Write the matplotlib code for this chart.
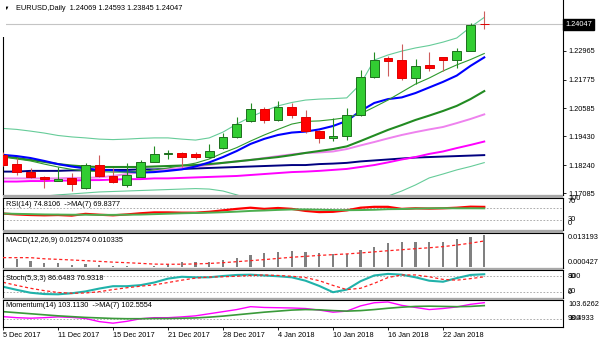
import matplotlib
matplotlib.use("Agg")
import matplotlib.pyplot as plt
from matplotlib.patches import Rectangle
import numpy as np

plt.rcParams['font.family'] = ['Liberation Sans', 'DejaVu Sans']
FS = 5.3

# ---------------- data ----------------
dates = ["5 Dec 2017", "6 Dec 2017", "7 Dec 2017", "8 Dec 2017", "11 Dec 2017", "12 Dec 2017",
         "13 Dec 2017", "14 Dec 2017", "15 Dec 2017", "18 Dec 2017", "19 Dec 2017", "20 Dec 2017",
         "21 Dec 2017", "22 Dec 2017", "26 Dec 2017", "27 Dec 2017", "28 Dec 2017", "29 Dec 2017",
         "2 Jan 2018", "3 Jan 2018", "4 Jan 2018", "5 Jan 2018", "8 Jan 2018", "9 Jan 2018",
         "10 Jan 2018", "11 Jan 2018", "12 Jan 2018", "15 Jan 2018", "16 Jan 2018", "17 Jan 2018",
         "18 Jan 2018", "19 Jan 2018", "22 Jan 2018", "23 Jan 2018", "24 Jan 2018", "25 Jan 2018"]
tick_every = 4

opens = [1.1867, 1.1828, 1.1798, 1.1775, 1.1761, 1.1771, 1.1729, 1.1825, 1.1780, 1.1743, 1.1777, 1.1839,
         1.1871, 1.1876, 1.1872, 1.1857, 1.1894, 1.1940, 1.2008, 1.2056, 1.2012, 1.2066, 1.2025, 1.1967,
         1.1935, 1.1944, 1.2031, 1.2189, 1.2265, 1.2258, 1.2183, 1.2237, 1.2270, 1.2258, 1.2297, 1.24069]
highs = [1.1877, 1.1854, 1.1814, 1.1778, 1.1818, 1.1794, 1.1832, 1.1867, 1.1812, 1.1832, 1.1846, 1.1904,
         1.1887, 1.1877, 1.1880, 1.1910, 1.1956, 1.2025, 1.2080, 1.2066, 1.2089, 1.2080, 1.2052, 1.1970,
         1.2018, 1.2059, 1.2218, 1.2292, 1.2276, 1.2323, 1.2262, 1.2293, 1.2272, 1.2307, 1.2410, 1.24593]
lows = [1.1820, 1.1784, 1.1770, 1.1730, 1.1758, 1.1719, 1.1725, 1.1777, 1.1750, 1.1736, 1.1775, 1.1836,
        1.1852, 1.1818, 1.1850, 1.1853, 1.1890, 1.1935, 1.2004, 1.1997, 1.2006, 1.2021, 1.1956, 1.1915,
        1.1924, 1.1928, 1.2026, 1.2183, 1.2193, 1.2176, 1.2159, 1.2213, 1.2213, 1.2224, 1.2296, 1.23845]
closes = [1.1825, 1.1798, 1.1775, 1.1768, 1.1768, 1.1746, 1.1825, 1.1781, 1.1756, 1.1784, 1.1839, 1.1871,
          1.1873, 1.1860, 1.1857, 1.1884, 1.1942, 1.1994, 1.2056, 1.2012, 1.2066, 1.2032, 1.1967, 1.1935,
          1.1946, 1.2031, 1.2189, 1.2259, 1.2255, 1.2183, 1.2233, 1.2224, 1.2257, 1.2296, 1.2403, 1.24047]

blue_ma = [1.1867, 1.1862, 1.1854, 1.1842, 1.1829, 1.1819, 1.1811, 1.1805, 1.1803, 1.1798, 1.1794, 1.1796,
           1.1801, 1.1807, 1.1819, 1.1836, 1.1858, 1.1883, 1.1912, 1.1933, 1.1949, 1.1959, 1.1963, 1.1972,
           1.1986, 1.2007, 1.2048, 1.2081, 1.2097, 1.2104, 1.2122, 1.2145, 1.2168, 1.2194, 1.2234, 1.2269]
fast_ma = [1.1858, 1.1850, 1.1842, 1.1829, 1.1817, 1.1807, 1.1801, 1.1798, 1.1796, 1.1796, 1.1798, 1.1805,
           1.1813, 1.1823, 1.1833, 1.1850, 1.1875, 1.1897, 1.1924, 1.1949, 1.1972, 1.1994, 1.2005, 1.2007,
           1.2013, 1.2021, 1.2036, 1.2064, 1.2093, 1.2126, 1.2159, 1.2184, 1.2213, 1.2238, 1.2260, 1.2285]
mid_ma = [1.1862, 1.1854, 1.1846, 1.1838, 1.1829, 1.1823, 1.1819, 1.1817, 1.1817, 1.1817, 1.1817, 1.1819,
          1.1821, 1.1823, 1.1825, 1.1829, 1.1834, 1.1840, 1.1846, 1.1852, 1.1858, 1.1866, 1.1875, 1.1883,
          1.1891, 1.1902, 1.1924, 1.1947, 1.1970, 1.1990, 1.2011, 1.2029, 1.2048, 1.2069, 1.2097, 1.2130]
band_up = [1.1976, 1.1972, 1.1965, 1.1957, 1.1947, 1.1941, 1.1937, 1.1932, 1.1930, 1.1932, 1.1935, 1.1937,
           1.1937, 1.1932, 1.1928, 1.1937, 1.1961, 1.1994, 1.2023, 1.2048, 1.2069, 1.2083, 1.2093, 1.2097,
           1.2099, 1.2102, 1.2159, 1.2258, 1.2279, 1.2295, 1.2308, 1.2318, 1.2332, 1.2349, 1.2394, 1.2434]
band_dn = [1.1681, 1.1687, 1.1693, 1.1697, 1.1702, 1.1706, 1.1710, 1.1714, 1.1716, 1.1718, 1.1720, 1.1722,
           1.1724, 1.1726, 1.1728, 1.1726, 1.1718, 1.1702, 1.1685, 1.1669, 1.1656, 1.1648, 1.1644, 1.1640,
           1.1640, 1.1644, 1.1656, 1.1677, 1.1697, 1.1718, 1.1743, 1.1772, 1.1788, 1.1805, 1.1819, 1.1835]
violet_ma = [1.1770, 1.1770, 1.1770, 1.1770, 1.1770, 1.1772, 1.1772, 1.1774, 1.1780, 1.1788, 1.1796, 1.1803,
             1.1809, 1.1813, 1.1819, 1.1825, 1.1834, 1.1840, 1.1846, 1.1854, 1.1862, 1.1869, 1.1875, 1.1877,
             1.1881, 1.1891, 1.1906, 1.1920, 1.1935, 1.1949, 1.1961, 1.1972, 1.1982, 1.1998, 1.2015, 1.2034]
magenta_ma = [1.1757, 1.1757, 1.1759, 1.1759, 1.1761, 1.1761, 1.1763, 1.1763, 1.1765, 1.1767, 1.1767, 1.1770,
              1.1770, 1.1772, 1.1774, 1.1776, 1.1778, 1.1780, 1.1784, 1.1788, 1.1792, 1.1796, 1.1798, 1.1801,
              1.1805, 1.1809, 1.1817, 1.1825, 1.1836, 1.1848, 1.1858, 1.1871, 1.1881, 1.1895, 1.1908, 1.1922]
navy_ma = [1.1798, 1.1798, 1.1801, 1.1801, 1.1801, 1.1803, 1.1803, 1.1805, 1.1805, 1.1805, 1.1807, 1.1807,
           1.1809, 1.1809, 1.1811, 1.1813, 1.1815, 1.1817, 1.1819, 1.1821, 1.1823, 1.1825, 1.1825, 1.1829,
           1.1831, 1.1834, 1.1840, 1.1844, 1.1848, 1.1852, 1.1856, 1.1858, 1.1860, 1.1862, 1.1864, 1.1866]
price_ticks = [1.22965, 1.21775, 1.20585, 1.19430, 1.18240, 1.17085]

rsi = [52, 49, 47, 46, 47, 45, 51, 48, 46, 49, 53, 56, 56, 55, 55, 58, 63, 68,
       72, 68, 71, 68, 61, 57, 58, 63, 72, 75, 75, 68, 70, 69, 70, 72, 75.5, 74.81]
rsi_ma = [52, 51, 50, 49, 48.5, 48, 48, 47.5, 47.5, 48, 48.5, 50, 51.5, 53, 54, 55, 56.5, 58.5,
          61, 62.5, 64.5, 66, 66, 65, 64, 63.5, 64, 65, 67, 67.5, 69, 70, 70.5, 70, 70, 69.84]

macd_hist = [0.00334, 0.00304, 0.00237, 0.00171, 0.00145, 0.00078, 0.00108, 0.00078, 0.00041, 0.00026,
             0.00015, 0.00052, 0.00134, 0.00186, 0.00186, 0.00211, 0.00263, 0.00371, 0.00479, 0.00542,
             0.00608, 0.00649, 0.00608, 0.00542, 0.00505, 0.00531, 0.00664, 0.00809, 0.00942, 0.00979,
             0.00979, 0.01005, 0.01005, 0.01098, 0.01180, 0.012574]
macd_sig = [0.00371, 0.00371, 0.00371, 0.00326, 0.00304, 0.00278, 0.00252, 0.00223, 0.00193, 0.00171,
            0.00145, 0.00115, 0.00108, 0.00111, 0.00122, 0.00141, 0.00171, 0.00211, 0.00252, 0.00293,
            0.00341, 0.00386, 0.00423, 0.00460, 0.00490, 0.00519, 0.00557, 0.00601, 0.00646, 0.00686,
            0.00727, 0.00764, 0.00809, 0.00872, 0.00946, 0.010335]

stoch_k = [39, 27, 16, 11, 10, 14, 21, 32, 41, 41, 45, 55, 70, 77, 75, 75, 80, 84,
           85, 82, 79, 75, 62, 42, 18, 28, 60, 82, 88, 85, 75, 62, 58, 72, 84, 86.65]
stoch_d = [56, 44, 33, 24, 17, 14, 15, 20, 28, 35, 41, 46, 55, 64, 72, 76, 77, 79,
           82, 84, 82, 79, 74, 62, 44, 28, 33, 52, 74, 84, 84, 77, 67, 64, 70, 76.93]

mom = [100.45, 100.25, 100.15, 100.25, 100.4, 100.3, 100.1, 99.5, 99.2, 99.55, 100.05, 100.25,
       100.25, 100.4, 100.6, 101.0, 101.4, 101.8, 102.35, 102.2, 102.15, 102.1, 102.0, 101.7,
       101.3, 101.5, 102.5, 103.1, 103.25, 102.6, 102.2, 101.8, 102.0, 102.3, 102.8, 103.113]
mom_ma = [101.4, 101.2, 101.0, 100.8, 100.6, 100.45, 100.3, 100.2, 100.1, 100.05, 100.05, 100.1,
          100.1, 100.15, 100.2, 100.35, 100.55, 100.8, 101.05, 101.3, 101.5, 101.7, 101.8, 101.75,
          101.6, 101.5, 101.6, 101.8, 102.05, 102.25, 102.4, 102.45, 102.4, 102.35, 102.4, 102.555]

# ---------------- layout ----------------
W, H = 600, 343
fig = plt.figure(figsize=(W / 100, H / 100), dpi=100)
fig.patch.set_facecolor('white')
X0, X1 = 3, 563
bar_px = 13.75
xlim = (0, (X1 - X0) / bar_px)
idx = np.arange(len(closes))


def px_axes(y0, y1):
    return fig.add_axes([X0 / W, 1 - y1 / H, (X1 - X0) / W, (y1 - y0) / H])


def ftext(x, y, s, size=FS, **kw):
    fig.text(x / W, 1 - y / H, s, fontsize=size, va='center', ha='left', **kw)


def gray_gap(y0, y1):
    fig.patches.append(Rectangle((X0 / W, 1 - y1 / H), (X1 - X0) / W, (y1 - y0) / H,
                                 transform=fig.transFigure, fc='#a8a8a8', ec='none', zorder=0))


def style(a):
    a.set_xlim(xlim)
    a.set_xticks([])
    a.set_yticks([])
    for s in a.spines.values():
        s.set_linewidth(0.8)
        s.set_color('black')


# ---------------- main price chart ----------------
ax = px_axes(0, 195)
style(ax)
ax.spines['top'].set_visible(False)
ax.set_ylim(1.17015, 1.25057)

ax.axhline(closes[-1], color='#c4c4c4', lw=0.8, zorder=1)
ax.plot(idx, band_up, color='#66cc99', lw=0.8, zorder=2)
ax.plot(idx, band_dn, color='#66cc99', lw=0.8, zorder=2)
ax.plot(idx, navy_ma, color='#000080', lw=1.4, zorder=2)
ax.plot(idx, magenta_ma, color='#ff00ff', lw=1.4, zorder=2)
ax.plot(idx, violet_ma, color='#ee82ee', lw=1.4, zorder=2)
ax.plot(idx, mid_ma, color='#228b22', lw=1.5, zorder=2)
ax.plot(idx, blue_ma, color='#0000ff', lw=1.5, zorder=2)
ax.plot(idx, fast_ma, color='#2e9a2e', lw=0.8, zorder=2)

o = np.array(opens)
c = np.array(closes)
up = c >= o
wick_col = ['#228b22' if u else '#cd5c5c' for u in up]
face = ['#32cd32' if u else '#ff0000' for u in up]
edge = ['#1e6e1e' if u else '#e00000' for u in up]
ax.vlines(idx, lows, highs, colors=wick_col, lw=0.8, zorder=3)
ax.bar(idx, np.maximum(np.abs(c - o), 0.00003), bottom=np.minimum(o, c), width=0.62,
       color=face, edgecolor=edge, linewidth=0.7, zorder=4)

ax.yaxis.tick_right()
ax.set_yticks(price_ticks)
ax.set_yticklabels([f"{p:.5f}" for p in price_ticks])
ax.tick_params(axis='y', direction='out', length=2.5, width=0.6, pad=1.5, labelsize=FS)
ax.text(1.004, closes[-1], f"{closes[-1]:.5f}", transform=ax.get_yaxis_transform(),
        color='white', fontsize=FS, va='center', ha='left',
        bbox=dict(boxstyle='square,pad=0.3', fc='black', ec='black'))

# hide the border behind the title, as in the terminal
fig.patches.append(Rectangle((0, 1 - 37 / H), 6 / W, 37 / H, transform=fig.transFigure,
                             fc='white', ec='none', zorder=5))
ftext(3.5, 8.5, "\u25bc", size=4)
ftext(16, 8.5, "EURUSD,Daily  1.24069 1.24593 1.23845 1.24047")

# ---------------- RSI ----------------
gray_gap(195, 198)
ax_rsi = px_axes(198, 230)
style(ax_rsi)
ax_rsi.set_ylim(-4.2, 105.2)
for lv in (70, 30):
    ax_rsi.axhline(lv, color='#a0a0a0', lw=0.6, ls=(0, (2, 2)))
ax_rsi.plot(idx, rsi, color='#ff0000', lw=1.6)
ax_rsi.plot(idx, rsi_ma, color='#4caf50', lw=1.4)
ftext(6, 205, "RSI(14) 74.8106  ->MA(7) 69.8377")
for s, y in (("100", 198.3), ("70", 201.7), ("30", 219.7), ("0", 223.8)):
    ftext(568, y, s)

# ---------------- MACD ----------------
gray_gap(230, 232.5)
ax_macd = px_axes(232.5, 267.5)
style(ax_macd)
ax_macd.set_ylim(-0.0002, 0.0137)
ax_macd.bar(idx, macd_hist, width=0.15, color='#808080', zorder=2)
ax_macd.plot(idx, macd_sig, color='#ff2020', lw=0.9, ls=(0, (2.5, 2)), zorder=3)
ftext(6, 240.5, "MACD(12,26,9) 0.012574 0.010335")
ftext(568, 237.7, "0.013193")
ftext(568, 262, "0.000427")

# ---------------- Stochastic ----------------
gray_gap(267.5, 270)
ax_st = px_axes(270, 297.5)
style(ax_st)
ax_st.set_ylim(-2.2, 102.9)
for lv in (80, 20):
    ax_st.axhline(lv, color='#a0a0a0', lw=0.6, ls=(0, (2, 2)))
ax_st.plot(idx, stoch_k, color='#20b2aa', lw=1.5)
ax_st.plot(idx, stoch_d, color='#ff2020', lw=0.9, ls=(0, (2.5, 2)))
ftext(6, 278, "Stoch(5,3,3) 86.6483 76.9318")
for s, y in (("100", 276), ("80", 276.8), ("20", 291.5), ("0", 292.3)):
    ftext(568, y, s)

# ---------------- Momentum ----------------
gray_gap(297.5, 299.5)
ax_m = px_axes(299.5, 327)
style(ax_m)
ax_m.set_ylim(98.47, 103.72)
ax_m.axhline(100, color='#a0a0a0', lw=0.6, ls=(0, (2, 2)))
ax_m.plot(idx, mom, color='#ff00ff', lw=1.0)
ax_m.plot(idx, mom_ma, color='#3a9a3a', lw=1.2)
ftext(6, 305.5, "Momentum(14) 103.1130  ->MA(7) 102.5554")
ftext(568, 304.3, "103.6262")
ftext(568, 319, "98.4933")
ftext(568, 319, "100")

tick_idx = idx[::tick_every]
ax_m.set_xticks(tick_idx)
ax_m.set_xticklabels([dates[i] for i in tick_idx], ha='left')
ax_m.tick_params(axis='x', direction='out', length=2.5, width=0.6, pad=0.8, labelsize=FS)

fig.savefig("out.png", dpi=100, facecolor='white')
